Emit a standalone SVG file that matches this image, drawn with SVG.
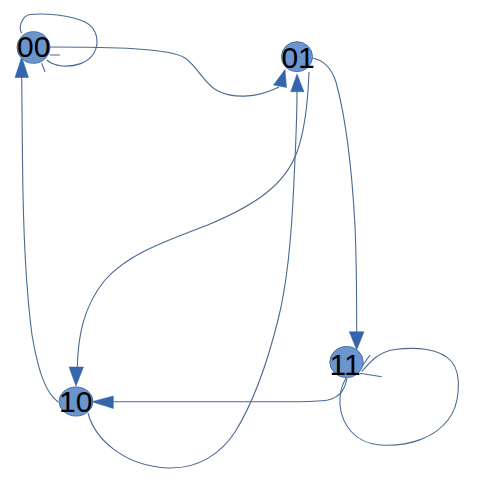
<svg xmlns="http://www.w3.org/2000/svg" width="477" height="487" viewBox="0 0 477 487">
<style>
.edge{fill:none;stroke:#4a6a93;stroke-width:1.1}
.head{fill:#3565aa;stroke:#3565aa;stroke-width:0.5}
.node ellipse{fill:#6c94cd;stroke:#4a72aa;stroke-width:1}
.node text{font-family:"Liberation Sans",Arial,sans-serif;font-size:30px;fill:#000}
</style>
<rect width="477" height="487" fill="#fff"/>
<g id="connectors">
<!-- 00 self loop -->
<path class="edge" d="M21.7,33.3 C18,27 22,16 30,14.5 C45,13 70,15 85,22 C97,28 100,42 94,53 C88,63 75,67 62,66 C55,65 50,63 46.7,60"/>
<path class="edge" d="M50,55 L60,55 M41.7,63.3 L45,71.7"/>
<!-- 00 -> 01 -->
<path class="edge" d="M50,47 C110,47 170,48 185,58 C198,67 205,85 218,91 C232,98 255,99 279,87"/>
<polygon class="head" points="285,69.5 273.5,85 286.5,87.5"/>
<!-- 01 -> 11 -->
<path class="edge" d="M312,58 C325,60 332,70 336,82 C345,115 352,170 355,226 C356.5,260 356.7,300 356.7,332"/>
<polygon class="head" points="349.3,331.7 364,331.7 356.7,350"/>
<!-- 01 -> 10 -->
<path class="edge" d="M309,72 C308,100 305,130 297,152 C285,185 255,205 210,224 C170,240 130,252 105,280 C82,308 78,340 77.3,367"/>
<polygon class="head" points="69,367 83.5,367 76,386"/>
<!-- 10 -> 01 -->
<path class="edge" d="M88,413 C95,440 125,466 168,468 C200,469 222,452 235,432 C255,400 268,360 278,320 C287,285 292,230 294,180 C296,140 297,110 297,92"/>
<polygon class="head" points="290.7,91.7 304,91.7 297,74"/>
<!-- 10 -> 00 -->
<path class="edge" d="M58,402 C45,392 38,370 32,335 C26,290 23,220 22.5,160 C22,120 21.7,95 21.7,77"/>
<polygon class="head" points="15,77.5 28.5,77.5 21.7,57"/>
<!-- 11 -> 10 -->
<path class="edge" d="M347,378 C345,390 340,397 328,400 C318,401.7 300,401.7 290,401.7 L113,401.7"/>
<polygon class="head" points="113.3,396 113.3,408.5 91.7,401.7"/>
<!-- 11 self loop -->
<path class="edge" d="M361.7,371.7 C370,362 378,352 395,349.5 C415,347 440,348 452,362 C462,375 460,405 448,420 C435,437 410,447 380,445 C355,443 342,425 340,405 C339,393 342,385 346,378"/>
<path class="edge" d="M358.3,371.7 L370,355 M360,373.3 L381.7,376.7"/>
</g>
<g id="node-00" class="node">
<ellipse cx="33.5" cy="47.5" rx="16.5" ry="15.8"/>
<text x="17" y="56.5">00</text>
</g>
<g id="node-01" class="node">
<ellipse cx="297" cy="56.7" rx="15.5" ry="15"/>
<text x="281.4" y="67.8">01</text>
</g>
<g id="node-11" class="node">
<ellipse cx="346.5" cy="362" rx="16.7" ry="15.5"/>
<text x="329.5" y="375">11</text>
</g>
<g id="node-10" class="node">
<ellipse cx="76" cy="401.5" rx="17" ry="14.5"/>
<text x="59" y="411.7">10</text>
</g>
</svg>
